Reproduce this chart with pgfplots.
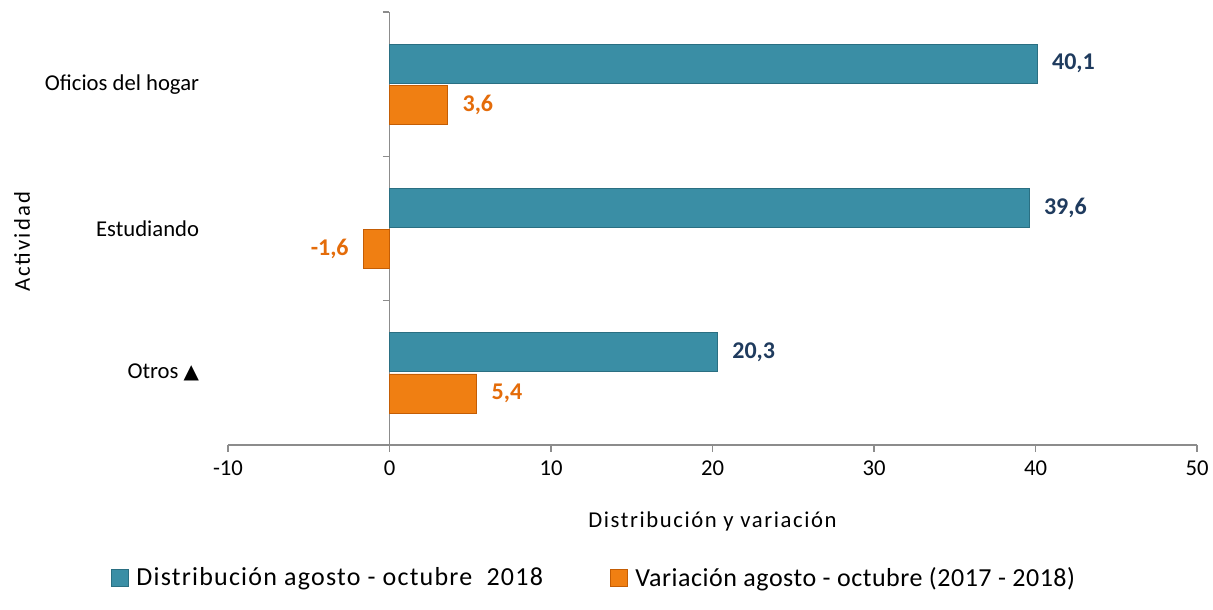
\documentclass[border=0pt]{standalone}
\usepackage{fontspec}
\setmainfont{Carlito}
\newfontfamily\dejavu{DejaVu Sans}
\usepackage{pgfplots}
\pgfplotsset{compat=1.18}
\definecolor{barblue}{HTML}{3A8EA5}
\definecolor{barbluebot}{HTML}{2A6F82}
\definecolor{barorange}{HTML}{F07F12}
\definecolor{barorangebot}{HTML}{C45D04}
\definecolor{lblblue}{HTML}{1F3B5E}
\definecolor{lblorange}{HTML}{E46C0A}
\definecolor{axgray}{HTML}{8C8C8C}
\begin{document}
\begin{tikzpicture}
\begin{axis}[
  at={(0,0)}, anchor=south west,
  scale only axis, width=726.75pt, height=324.75pt,
  xbar, bar width=0.27,
  xmin=-10, xmax=50, ymin=-0.5, ymax=2.5,
  axis x line*=bottom, axis y line*=middle,
  axis line style={axgray, line width=0.9pt},
  xtick={-10,0,10,20,30,40,50},
  ytick={-0.5,0.5,1.5,2.5}, yticklabels={},
  tick style={axgray, line width=0.9pt},
  tick align=outside,
  xtick align=outside, ytick align=outside,
  major tick length=5pt,
  /pgf/number format/assume math mode=true,
  ticklabel style={font=\fontsize{17}{20}\selectfont},
  xticklabel style={yshift=-3.5pt},
  xlabel={Distribución y variación},
  xlabel style={at={(axis description cs:0.5,-0.1755)}, anchor=center, font=\fontsize{17}{20}\selectfont\addfontfeature{LetterSpace=7}},
  ylabel={Actividad},
  ylabel style={at={(axis description cs:-0.2126,0.469)}, anchor=center, rotate=0, font=\fontsize{17}{20}\selectfont\addfontfeature{LetterSpace=9}},
  nodes near coords,
  every node near coord/.append style={font=\fontsize{18}{20}\selectfont\bfseries, inner xsep=11pt,
    /pgf/number format/use comma, /pgf/number format/fixed, /pgf/number format/fixed zerofill, /pgf/number format/precision=1},
  legend style={at={(axis description cs:0.378,-0.307)}, anchor=center, draw=none,
    legend columns=2, font=\fontsize{19.5}{22}\selectfont\addfontfeature{LetterSpace=2},
    /tikz/every even column/.append style={column sep=48pt}},
  legend image code/.code={\path[#1] (0pt,-6.5pt) rectangle (13pt,6.5pt);\path[draw=none,fill=none] (0pt,0pt) -- (17pt,0pt);},
  clip=false,
]
\addplot[bar shift=0.143, draw=barbluebot, line width=0.5pt, fill=barblue,
  every node near coord/.append style={text=lblblue}]
  coordinates {(40.1,2) (39.6,1) (20.3,0)};
\addlegendentry{{\addfontfeature{LetterSpace=4.7}Distribución agosto - octubre\ \ 2018}}
\addplot[bar shift=-0.143, draw=barorangebot, line width=0.5pt, fill=barorange,
  every node near coord/.append style={text=lblorange}]
  coordinates {(3.6,2) (-1.6,1) (5.4,0)};
\addlegendentry{Variación agosto - octubre (2017 - 2018)}
\node[anchor=east, font=\fontsize{17}{20}\selectfont] at (axis cs:-11.5,2) {Oficios del hogar};
\node[anchor=east, font=\fontsize{17}{20}\selectfont] at (axis cs:-11.5,1) {Estudiando};
\node[anchor=east, font=\fontsize{17}{20}\selectfont] at (axis cs:-11.5,0) {Otros {\dejavu\fontsize{15}{18}\selectfont ▲}};
\end{axis}
\pgfresetboundingbox
\path (current axis.south west) +(-171pt,-123.75pt) rectangle +(738.75pt,333.75pt);
\end{tikzpicture}
\end{document}
